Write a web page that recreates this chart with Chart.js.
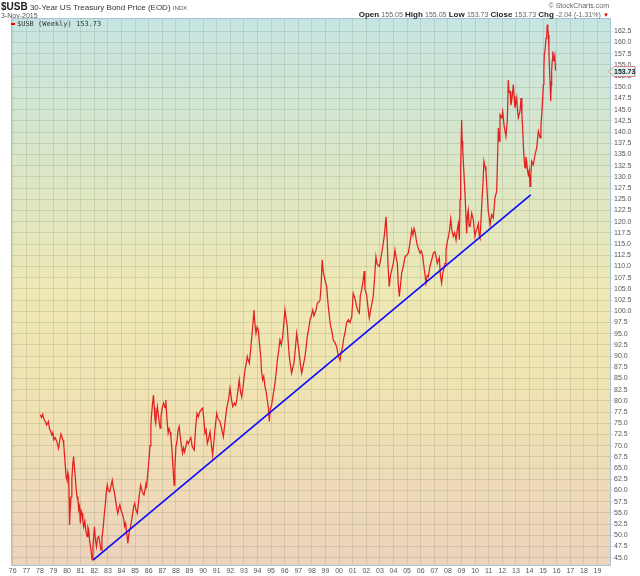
<!DOCTYPE html>
<html>
<head>
<meta charset="utf-8">
<script src="https://cdn.jsdelivr.net/npm/chart.js@4.4.1/dist/chart.umd.min.js"></script>
<style>
  body { margin: 0; width: 640px; height: 576px; overflow: hidden; background: #fff; position: relative;
         font-family: "Liberation Sans", Arial, sans-serif; }
  #usbChart { position: absolute; left: 0; top: 0; }
  .hdr { position: absolute; white-space: nowrap; color: #333; line-height: 1; }
  .hdr b { color: #222; }
  .hdr .v { color: #666; font-size: 7px; }
</style>
</head>
<body>
<canvas id="usbChart" width="640" height="576"></canvas>

<div class="hdr" style="left:1px; top:2px; font-size:8px;"><b style="font-size:10px;">$USB</b> 30-Year US Treasury Bond Price (EOD) <span style="font-size:6px; color:#555;">INDX</span></div>
<div class="hdr" style="left:1px; top:12px; font-size:7px; color:#555;">3-Nov-2015</div>
<div class="hdr" style="right:31px; top:2px; font-size:7px; color:#666;">© StockCharts.com</div>
<div class="hdr" style="right:31px; top:11px; font-size:8px;"><b>Open</b> <span class="v">155.05</span> <b>High</b> <span class="v">155.05</span> <b>Low</b> <span class="v">153.73</span> <b>Close</b> <span class="v">153.73</span> <b>Chg</b> <span class="v">-2.04 (-1.31%)</span> <span style="color:#d00; font-size:6px;">▼</span></div>
<div class="hdr" style="left:11px; top:20px; font-size:7px;"><span style="display:inline-block; width:4px; height:2px; background:#e00; vertical-align:middle;"></span> <span style="font-family:'DejaVu Sans Mono', 'Liberation Mono', monospace; color:#333;">$USB (Weekly) 153.73</span></div>

<script>
// weekly closes, sampled (decimal year -> price)
var weekYears = [
  1978.02, 1978.12, 1978.2, 1978.3, 1978.42, 1978.5, 1978.63, 1978.7, 1978.78, 1978.88, 1978.95,
  1979.02, 1979.12, 1979.25, 1979.37, 1979.45, 1979.55, 1979.62, 1979.7, 1979.75, 1979.82, 1979.87, 1979.93, 1979.99,
  1980.06, 1980.11, 1980.15, 1980.18, 1980.22, 1980.29, 1980.35, 1980.42, 1980.48, 1980.53, 1980.6, 1980.66, 1980.73, 1980.8, 1980.85, 1980.92, 1980.97,
  1981.03, 1981.1, 1981.16, 1981.22, 1981.3, 1981.38, 1981.47, 1981.53, 1981.59, 1981.66, 1981.72, 1981.77, 1981.84, 1981.9, 1981.96,
  1982.01, 1982.08, 1982.16, 1982.24, 1982.33, 1982.42, 1982.5, 1982.56, 1982.63, 1982.7, 1982.76, 1982.82, 1982.88, 1982.95,
  1983.03, 1983.14, 1983.22, 1983.32, 1983.4, 1983.49, 1983.58, 1983.65, 1983.73, 1983.8, 1983.88, 1983.96,
  1984.05, 1984.15, 1984.23, 1984.3, 1984.38, 1984.44, 1984.47, 1984.53, 1984.6, 1984.67, 1984.75, 1984.83, 1984.9, 1984.97,
  1985.05, 1985.16, 1985.24, 1985.32, 1985.41, 1985.48, 1985.56, 1985.65, 1985.72, 1985.8, 1985.85, 1985.92,
  1986.02, 1986.1, 1986.16, 1986.2, 1986.27, 1986.35, 1986.41, 1986.46, 1986.52, 1986.58, 1986.64, 1986.7, 1986.76, 1986.84, 1986.9,
  1987.01, 1987.1, 1987.2, 1987.26, 1987.32, 1987.38, 1987.43, 1987.5, 1987.58, 1987.63, 1987.7, 1987.76, 1987.82, 1987.87, 1987.92,
  1988.0, 1988.08, 1988.16, 1988.24, 1988.32, 1988.4, 1988.49, 1988.56, 1988.64, 1988.73, 1988.82, 1988.92,
  1989.02, 1989.1, 1989.2, 1989.35, 1989.45, 1989.55, 1989.65, 1989.75, 1989.85, 1989.97,
  1990.05, 1990.14, 1990.22, 1990.31, 1990.4, 1990.51, 1990.6, 1990.7, 1990.78, 1990.9,
  1991.0, 1991.1, 1991.24, 1991.35, 1991.49, 1991.6, 1991.74, 1991.88, 1991.98,
  1992.08, 1992.18, 1992.3, 1992.4, 1992.47, 1992.57, 1992.66, 1992.75, 1992.84, 1992.95,
  1993.08, 1993.18, 1993.25, 1993.33, 1993.4, 1993.5, 1993.57, 1993.66, 1993.74, 1993.8, 1993.89, 1993.97,
  1994.06, 1994.14, 1994.24, 1994.3, 1994.38, 1994.46, 1994.55, 1994.64, 1994.72, 1994.8, 1994.87, 1994.93,
  1995.04, 1995.16, 1995.29, 1995.38, 1995.46, 1995.55, 1995.65, 1995.75, 1995.85, 1995.94,
  1996.02, 1996.1, 1996.19, 1996.26, 1996.34, 1996.42, 1996.51, 1996.6, 1996.68, 1996.78, 1996.88, 1996.97,
  1997.07, 1997.16, 1997.25, 1997.37, 1997.49, 1997.58, 1997.66, 1997.76, 1997.86, 1997.96,
  1998.06, 1998.15, 1998.23, 1998.32, 1998.4, 1998.5, 1998.6, 1998.68, 1998.76, 1998.83, 1998.91,
  1999.0, 1999.09, 1999.15, 1999.21, 1999.3, 1999.38, 1999.47, 1999.57, 1999.7, 1999.82, 1999.95,
  2000.07, 2000.16, 2000.26, 2000.34, 2000.43, 2000.56, 2000.68, 2000.8, 2000.93,
  2001.04, 2001.1, 2001.2, 2001.29, 2001.4, 2001.49, 2001.56, 2001.66, 2001.75, 2001.85, 2001.9,
  2002.03, 2002.12, 2002.22, 2002.3, 2002.4, 2002.51, 2002.6, 2002.71, 2002.8, 2002.96,
  2003.08, 2003.21, 2003.33, 2003.45, 2003.54, 2003.6, 2003.69, 2003.78, 2003.87,
  2004.0, 2004.11, 2004.2, 2004.28, 2004.35, 2004.43, 2004.52, 2004.6, 2004.72, 2004.85, 2004.97,
  2005.09, 2005.2, 2005.34, 2005.43, 2005.51, 2005.6, 2005.71, 2005.83, 2005.95,
  2006.05, 2006.15, 2006.28, 2006.39, 2006.48, 2006.56, 2006.68, 2006.81, 2006.93,
  2007.05, 2007.15, 2007.22, 2007.37, 2007.45, 2007.54, 2007.62, 2007.71, 2007.79, 2007.86, 2007.95,
  2008.03, 2008.12, 2008.21, 2008.3, 2008.4, 2008.5, 2008.6, 2008.7, 2008.77, 2008.84, 2008.9, 2008.94,
  2009.01, 2009.05, 2009.09, 2009.18, 2009.28, 2009.38, 2009.44, 2009.5, 2009.56, 2009.63, 2009.75, 2009.87, 2009.99,
  2010.06, 2010.12, 2010.24, 2010.3, 2010.36, 2010.43, 2010.49, 2010.57, 2010.65, 2010.73, 2010.8, 2010.88, 2010.97,
  2011.04, 2011.1, 2011.22, 2011.34, 2011.46, 2011.59, 2011.65, 2011.71, 2011.77, 2011.83, 2011.96,
  2012.03, 2012.13, 2012.27, 2012.37, 2012.44, 2012.5, 2012.57, 2012.63, 2012.69, 2012.75, 2012.81, 2012.87, 2012.93,
  2013.0, 2013.06, 2013.12, 2013.18, 2013.3, 2013.38, 2013.44, 2013.5, 2013.55, 2013.6, 2013.67, 2013.73, 2013.79, 2013.85, 2013.91, 2013.98,
  2014.04, 2014.1, 2014.16, 2014.28, 2014.41, 2014.53, 2014.65, 2014.72, 2014.78, 2014.84, 2014.9, 2014.96,
  2015.02, 2015.06, 2015.09, 2015.15, 2015.22, 2015.27, 2015.31, 2015.35, 2015.39, 2015.43, 2015.46, 2015.51, 2015.56, 2015.6, 2015.63, 2015.67, 2015.71, 2015.75, 2015.8, 2015.86, 2015.92
];

var weekCloses = [
  76.9, 76.3, 77.0, 75.9, 75.3, 74.6, 75.4, 73.9, 73.3, 72.4, 72.9,
  71.3, 71.8, 70.9, 69.4, 71.0, 72.6, 72.0, 71.2, 70.4, 67.5, 65.3, 63.0, 62.3,
  64.0, 63.1, 58.5, 52.3, 55.0, 58.6, 62.5, 66.0, 67.6, 65.5, 63.1, 60.5, 58.6, 57.8, 55.7, 56.6, 52.7,
  55.5, 54.9, 53.0, 51.9, 53.2, 51.0, 49.7, 51.8, 51.2, 48.5, 47.6, 46.3, 44.5, 47.5, 50.0,
  51.9, 49.0, 47.5, 49.5, 49.7, 48.0, 46.7, 49.5, 51.0, 53.4, 55.5, 57.1, 59.6, 61.2,
  60.0, 59.7, 61.0, 62.3, 60.6, 59.4, 57.5, 56.0, 54.9, 56.0, 56.8, 55.6,
  54.9, 53.8, 52.0, 52.7, 50.5, 49.0, 48.2, 50.0, 51.2, 51.9, 53.5, 55.0, 56.5, 57.1,
  55.8, 54.9, 57.0, 59.2, 61.2, 60.3, 59.5, 59.0, 60.0, 61.5, 60.9, 63.5,
  66.8, 70.0, 74.0, 76.5, 79.0, 81.3, 78.5, 76.0, 75.0, 77.5, 78.7, 77.0, 75.5, 73.9, 76.5,
  78.7, 79.5, 78.5, 80.2, 77.0, 74.5, 72.8, 73.8, 73.0, 72.0, 69.5, 66.5, 63.5, 61.2, 65.0,
  69.8, 71.0, 73.5, 74.3, 72.0, 70.2, 68.3, 69.5, 68.6, 69.8, 71.0, 70.5,
  71.3, 71.8, 69.8, 69.0, 74.0, 77.2, 76.5, 77.5, 78.0, 78.4,
  76.0, 72.8, 73.5, 70.5, 71.5, 73.1, 70.5, 67.9, 70.5, 74.5,
  77.2, 76.0, 75.4, 74.0, 72.0, 75.0, 78.4, 80.5, 82.8,
  80.5, 78.7, 79.5, 79.0, 80.2, 82.5, 84.7, 82.0, 80.9, 83.5,
  86.9, 88.5, 89.9, 89.0, 88.4, 91.5, 94.0, 97.0, 100.3, 97.5, 95.1, 96.5,
  95.8, 93.0, 89.9, 86.5, 84.7, 85.5, 83.2, 82.0, 80.2, 78.5, 75.4, 78.0,
  79.1, 81.5, 84.0, 86.5, 89.1, 91.0, 93.6, 92.5, 94.3, 97.5,
  100.3, 98.5, 96.6, 93.0, 89.9, 88.0, 86.2, 87.5, 88.4, 91.5, 95.1, 93.0,
  90.6, 88.0, 86.2, 88.0, 89.9, 92.0, 94.3, 96.0, 98.1, 99.0,
  100.3, 99.0, 99.6, 100.5, 101.8, 102.0, 102.5, 106.0, 111.5, 109.0, 107.7,
  106.5, 105.5, 103.0, 101.0, 98.5, 96.6, 95.5, 93.6, 93.0, 92.1, 90.0,
  89.1, 91.0, 92.1, 94.0, 95.1, 97.5, 98.1, 97.5, 98.8,
  104.0, 103.5, 102.5, 101.0, 100.0, 99.6, 103.5, 104.8, 106.5, 109.0, 105.0,
  103.5, 101.0, 98.5, 100.0, 101.5, 103.3, 107.0, 112.2, 110.5, 110.0,
  112.0, 114.4, 117.0, 121.1, 115.9, 110.0, 105.5, 108.0, 109.2,
  111.0, 113.7, 112.0, 110.7, 106.0, 103.3, 106.0, 108.5, 110.0, 112.2, 112.5,
  113.0, 115.0, 118.2, 117.0, 118.5, 117.5, 115.2, 114.0, 113.0,
  113.5, 112.2, 109.0, 106.3, 108.0, 107.7, 110.0, 111.5, 113.0,
  113.3, 112.0, 110.7, 112.0, 108.0, 106.3, 108.5, 109.5, 110.7, 113.5, 115.5,
  116.5, 118.0, 120.6, 118.0, 116.7, 117.5, 115.9, 118.5, 119.6, 116.0, 125.0, 132.3,
  142.7, 138.0, 136.0, 130.8, 124.8, 117.4, 121.5, 122.6, 119.0, 118.9, 121.9, 120.4, 116.7,
  117.8, 118.2, 119.6, 117.0, 116.4, 120.0, 123.8, 128.0, 133.5, 132.3, 131.3, 127.0, 122.3,
  121.0, 119.3, 121.6, 120.8, 125.3, 126.8, 134.0, 140.9, 138.0, 143.9, 143.2,
  144.6, 141.5, 139.0, 142.7, 151.6, 149.0, 149.1, 146.0, 146.9, 148.5, 150.6, 148.0, 145.4,
  146.5, 147.6, 145.0, 143.2, 144.6, 147.6, 144.0, 140.9, 137.0, 134.2, 132.0, 134.5, 133.5, 131.5, 130.5, 131.5,
  127.9, 130.5, 133.5, 132.7, 135.0, 136.5, 140.2, 139.5, 138.7, 141.5, 143.9, 147.0,
  150.6, 154.0, 157.3, 158.5, 161.0, 162.0, 164.0, 163.0, 161.7, 158.0, 155.0, 151.3, 146.9, 150.5, 153.6, 156.0, 158.0, 157.0, 155.8, 157.0, 153.73
];

// hand-drawn support line (two anchors)
var trendYears = [1981.93, 2014.09];
var trendValues = [44.5, 126.0];

var yearMin = 1975.875, yearMax = 2019.92;
var priceMin = 43.37, priceMax = 165.47, priceStep = 2.5, priceTopLabel = 162.5;

function toPoints(xs, ys) {
    var out = [];
    for (var i = 0; i < xs.length; i++) out.push({ x: xs[i], y: ys[i] });
    return out;
}

var lastClose = weekCloses[weekCloses.length - 1];

var plotBackdrop = {
    id: "plotBackdrop",
    beforeDraw: function (chart) {
        var ctx = chart.ctx, a = chart.chartArea;
        var g = ctx.createLinearGradient(0, a.top, 0, a.bottom);
        g.addColorStop(0, "#c6e5e2");
        g.addColorStop(0.28, "#dbe6c6");
        g.addColorStop(0.5, "#eee8b5");
        g.addColorStop(0.72, "#f0e1b3");
        g.addColorStop(1, "#ecd3bd");
        ctx.save();
        ctx.fillStyle = g;
        ctx.fillRect(a.left, a.top, a.right - a.left, a.bottom - a.top);
        ctx.restore();
    },
    afterDraw: function (chart) {
        var ctx = chart.ctx, a = chart.chartArea;
        ctx.save();
        ctx.strokeStyle = "#a8c3d6";
        ctx.lineWidth = 1;
        ctx.beginPath();
        ctx.moveTo(a.left + 0.5, a.bottom);
        ctx.lineTo(a.left + 0.5, a.top + 0.5);
        ctx.lineTo(a.right, a.top + 0.5);
        ctx.stroke();

        // last price tag on the right axis
        var y = Math.round(chart.scales.y.getPixelForValue(lastClose)) + 0.5;
        var x0 = a.right;
        ctx.beginPath();
        ctx.moveTo(x0 - 1, y);
        ctx.lineTo(x0 + 4, y - 5);
        ctx.lineTo(x0 + 25, y - 5);
        ctx.lineTo(x0 + 25, y + 5);
        ctx.lineTo(x0 + 4, y + 5);
        ctx.closePath();
        ctx.fillStyle = "#dcf4f4";
        ctx.fill();
        ctx.strokeStyle = "#e27d7d";
        ctx.stroke();
        ctx.fillStyle = "#1a1a1a";
        ctx.font = "bold 7px 'Liberation Sans', Arial, sans-serif";
        ctx.textBaseline = "middle";
        ctx.fillText(lastClose.toFixed(2), x0 + 4, y + 0.5);
        ctx.restore();
    }
};

Chart.defaults.font.family = "'Liberation Sans', Arial, sans-serif";

var ctx = document.getElementById("usbChart").getContext("2d");

var myChart = new Chart(ctx, {
    type: "line",
    data: {
        datasets: [
            {
                label: "$USB (Weekly)",
                data: toPoints(weekYears, weekCloses),
                borderColor: "rgba(226, 12, 12, 0.9)",
                borderWidth: 1.25,
                pointRadius: 0,
                fill: false,
                tension: 0,
                order: 2,
            },
            {
                label: "Trend",
                data: toPoints(trendYears, trendValues),
                borderColor: "#0a0aff",
                borderWidth: 1.6,
                pointRadius: 0,
                fill: false,
                order: 1,
            },
        ],
    },
    options: {
        responsive: false,
        animation: false,
        layout: { padding: { left: 11, top: 18, right: 0, bottom: 0 } },
        plugins: {
            legend: { display: false },
            tooltip: { enabled: false },
        },
        scales: {
            x: {
                type: "linear",
                position: "bottom",
                min: yearMin,
                max: yearMax,
                afterFit: function (scale) { scale.height = 11; },
                grid: {
                    color: "rgba(70, 90, 50, 0.14)",
                    drawTicks: false,
                },
                border: { display: true, color: "#a8c3d6" },
                ticks: {
                    stepSize: 1,
                    includeBounds: false,
                    autoSkip: false,
                    maxRotation: 0,
                    padding: 2,
                    color: "#555",
                    font: { size: 7 },
                    callback: function (value) {
                        return String(Math.round(value) % 100).padStart(2, "0");
                    },
                },
            },
            y: {
                type: "linear",
                position: "right",
                min: priceMin,
                max: priceMax,
                afterFit: function (scale) { scale.width = 30; },
                afterBuildTicks: function (scale) {
                    scale.ticks = scale.ticks.filter(function (t) { return t.value <= priceTopLabel + 0.001; });
                },
                grid: {
                    color: "rgba(70, 90, 50, 0.14)",
                    tickLength: 3,
                },
                border: { display: true, color: "#a8c3d6" },
                ticks: {
                    stepSize: priceStep,
                    includeBounds: false,
                    autoSkip: false,
                    padding: 1,
                    color: "#555",
                    font: { size: 7 },
                    callback: function (value) { return value.toFixed(1); },
                },
            },
        },
    },
    plugins: [plotBackdrop],
});
</script>
</body>
</html>
